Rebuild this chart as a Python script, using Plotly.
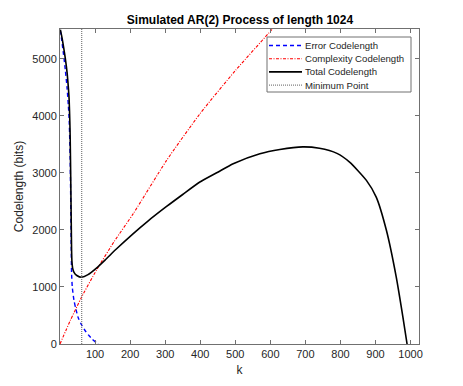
import plotly.graph_objects as go

# values
k_err = [1, 5, 10, 15, 20, 24, 26, 28, 29, 30, 31, 32, 33, 35, 40, 45, 52, 62, 70, 81, 92, 104, 110]
err_len = [5497, 5320, 5080, 4810, 4500, 4160, 3950, 3530, 3240, 2800, 2290, 1730, 1250, 1000,
           760, 620, 460, 330, 250, 160, 85, 20, -20]

k_cmp = [0, 30, 62, 104, 155, 209, 304, 399, 500, 604, 620]
cmp_len = [0, 420, 827, 1294, 1800, 2285, 3217, 4033, 4790, 5507, 5620]

k_tot = [1, 5, 10, 15, 20, 24, 26, 28, 29, 30, 31, 32, 33, 34, 36, 40, 48, 62, 80, 104,
         130, 160, 209, 250, 304, 350, 399, 450, 494, 570, 627, 693, 740, 790, 826, 874,
         902, 931, 959, 978, 990]
tot_len = [5510, 5390, 5210, 5010, 4770, 4480, 4290, 3900, 3620, 3200, 2700, 2150, 1650,
           1450, 1330, 1255, 1200, 1170, 1215, 1330, 1480, 1660, 1935, 2150, 2410, 2620,
           2838, 3010, 3159, 3334, 3409, 3455, 3430, 3340, 3187, 2867, 2575, 1993, 1177,
           477, 0]

k_min = 62
y_limits = [0, 5520]

x_ticks = [100, 200, 300, 400, 500, 600, 700, 800, 900, 1000]
y_ticks = [0, 1000, 2000, 3000, 4000, 5000]

series_names = ["Error Codelength", "Complexity Codelength", "Total Codelength", "Minimum Point"]
series_colors = ["#0000ff", "#ff0000", "#000000", "#606060"]
series_dash = ["4px,3px", "3px,1.5px,1px,1.5px", "solid", "1px,1px"]
series_width = [1.4, 1.1, 1.6, 1]

FONT = "Liberation Sans, Arial, sans-serif"

fig = go.Figure()
fig.add_trace(go.Scatter(x=k_err, y=err_len, mode="lines", name=series_names[0],
                         line=dict(color=series_colors[0], width=series_width[0],
                                   dash=series_dash[0], shape="spline", smoothing=0.6)))
fig.add_trace(go.Scatter(x=k_cmp, y=cmp_len, mode="lines", name=series_names[1],
                         line=dict(color=series_colors[1], width=series_width[1],
                                   dash=series_dash[1], shape="spline", smoothing=0.6)))
fig.add_trace(go.Scatter(x=k_tot, y=tot_len, mode="lines", name=series_names[2],
                         line=dict(color=series_colors[2], width=series_width[2],
                                   shape="spline", smoothing=0.6)))
fig.add_trace(go.Scatter(x=[k_min, k_min], y=y_limits, mode="lines", name=series_names[3],
                         line=dict(color=series_colors[3], width=series_width[3],
                                   dash=series_dash[3])))

axis_style = dict(showline=True, linecolor="#707070", linewidth=1, mirror="ticks",
                  ticks="inside", ticklen=4, tickcolor="#707070", showgrid=False,
                  zeroline=False, tickfont=dict(size=11, color="#262626"))

fig.update_xaxes(range=[0, 1024], tickvals=x_ticks,
                 title=dict(text="k", font=dict(size=12, color="#262626"), standoff=6),
                 **axis_style)
fig.update_yaxes(range=y_limits, tickvals=y_ticks,
                 title=dict(text="Codelength (bits)", font=dict(size=12, color="#262626"), standoff=6),
                 **axis_style)

# MATLAB-style compact legend box, drawn in paper coordinates of the plot area
L, T, W, H = 60, 29, 359, 315


def px(xp):
    return (xp - L) / W


def py(yp):
    return (T + H - yp) / H


shapes = [dict(type="rect", xref="paper", yref="paper", x0=px(267), x1=px(411),
               y0=py(92), y1=py(37), line=dict(color="#707070", width=1), fillcolor="white",
               layer="above")]
annotations = []
for i, name in enumerate(series_names):
    row_y = 45.5 + 13.2 * i
    shapes.append(dict(type="line", xref="paper", yref="paper", x0=px(269), x1=px(302),
                       y0=py(row_y), y1=py(row_y), layer="above",
                       line=dict(color=series_colors[i], width=series_width[i], dash=series_dash[i])))
    annotations.append(dict(text=name, xref="paper", yref="paper", x=px(303), y=py(row_y),
                            xanchor="left", yanchor="middle", showarrow=False,
                            font=dict(size=9.6, color="#262626")))

fig.update_layout(
    width=463, height=386,
    margin=dict(l=L, r=463 - L - W, t=T, b=386 - T - H),
    paper_bgcolor="white", plot_bgcolor="white",
    font=dict(family=FONT, color="#262626"),
    title=dict(text="<b>Simulated AR(2) Process of length 1024</b>", x=px(240), xref="paper",
               xanchor="center", y=1 - 20 / 386, yanchor="middle",
               font=dict(size=12, color="#000000")),
    showlegend=False,
    shapes=shapes,
    annotations=annotations,
)

fig.write_html("out.html", config={"displayModeBar": False},
               post_script="document.body.style.margin='0';")
